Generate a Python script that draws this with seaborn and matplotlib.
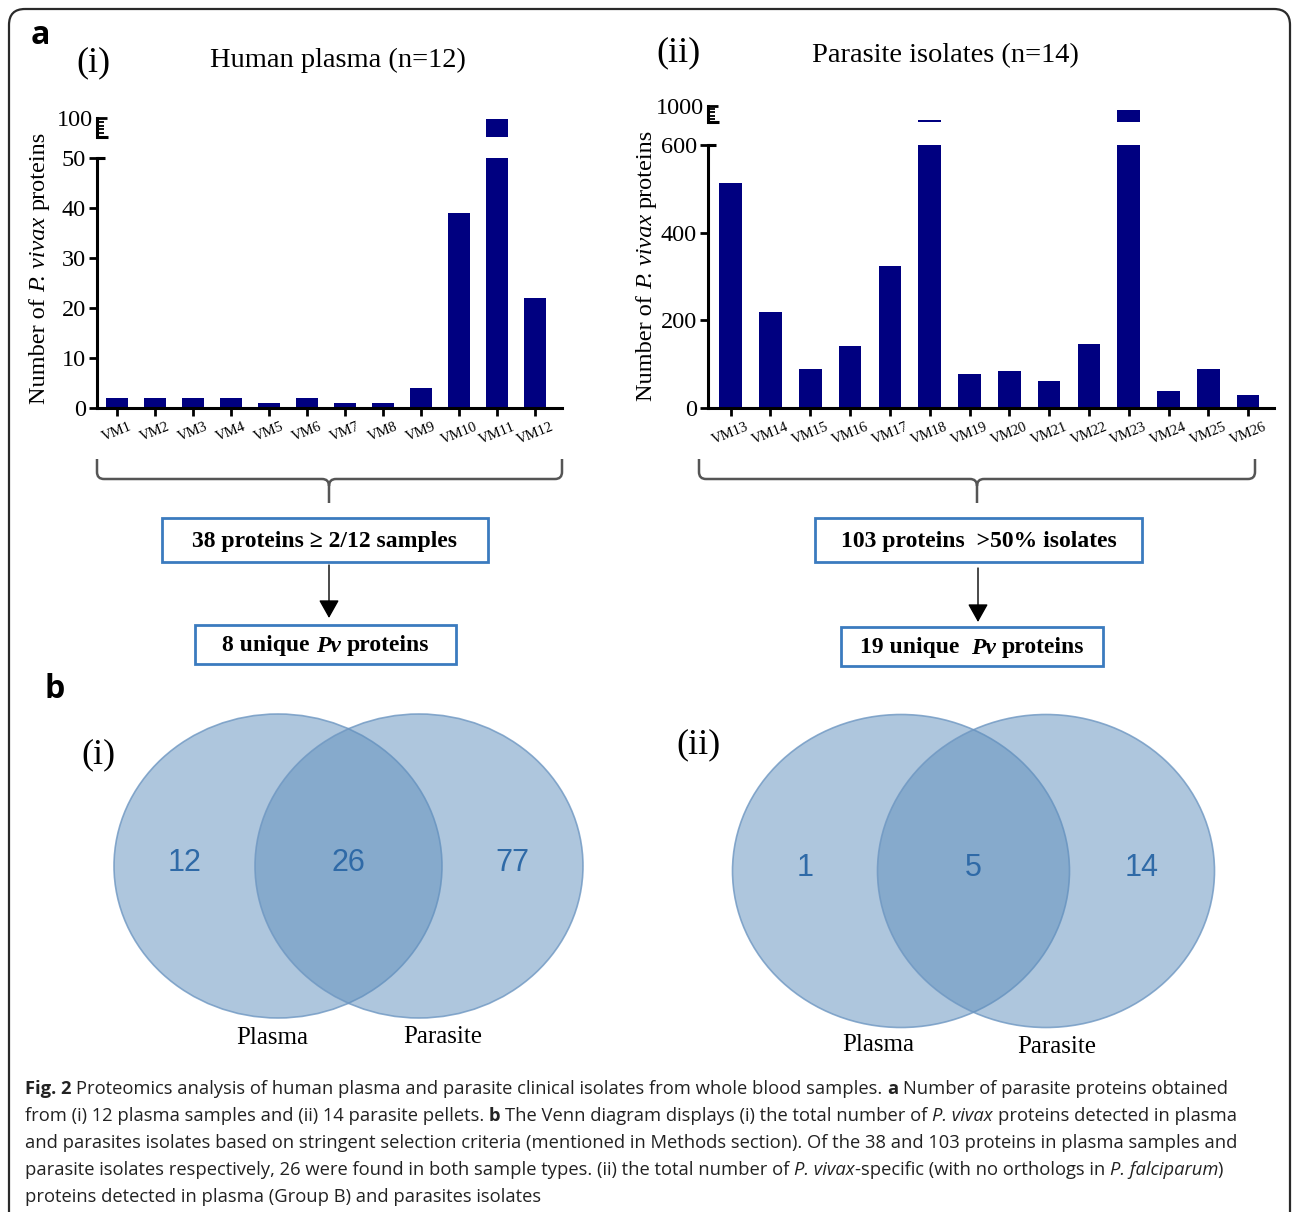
import matplotlib
matplotlib.use("Agg")
import numpy as np
import pandas as pd
import matplotlib.pyplot as plt
import seaborn as sns
from matplotlib.patches import Ellipse, Rectangle, FancyBboxPatch, PathPatch
from matplotlib.path import Path
from matplotlib import font_manager

# ---- data ----
plasma_samples = ["VM1", "VM2", "VM3", "VM4", "VM5", "VM6", "VM7", "VM8", "VM9", "VM10", "VM11", "VM12"]
plasma_counts = [2, 2, 2, 2, 1, 2, 1, 1, 4, 39, 98, 22]
plasma_ticks = [0, 10, 20, 30, 40, 50]

isolate_samples = ["VM13", "VM14", "VM15", "VM16", "VM17", "VM18", "VM19",
                   "VM20", "VM21", "VM22", "VM23", "VM24", "VM25", "VM26"]
isolate_counts = [514, 219, 89, 141, 325, 738, 78, 84, 61, 145, 925, 38, 89, 30]
isolate_ticks = [0, 200, 400, 600]

venn_labels = ["Plasma", "Parasite"]
venn_all = [12, 26, 77]        # plasma only, both, parasite only
venn_specific = [1, 5, 14]

flow_left = ["38 proteins \u2265 2/12 samples", "8 unique ", "Pv", " proteins"]
flow_right = ["103 proteins  >50% isolates", "19 unique  ", "Pv", " proteins"]

ylabel_runs = [("Number of ", "n"), ("P. vivax", "i"), (" proteins", "n")]

caption = [
    [("Fig. 2", "b"), (" Proteomics analysis of human plasma and parasite clinical isolates from whole blood samples. ", "n"),
     ("a", "b"), (" Number of parasite proteins obtained", "n")],
    [("from (i) 12 plasma samples and (ii) 14 parasite pellets. ", "n"), ("b", "b"),
     (" The Venn diagram displays (i) the total number of ", "n"), ("P. vivax", "i"), (" proteins detected in plasma", "n")],
    [("and parasites isolates based on stringent selection criteria (mentioned in Methods section). "
      "Of the 38 and 103 proteins in plasma samples and", "n")],
    [("parasite isolates respectively, 26 were found in both sample types. (ii) the total number of ", "n"),
     ("P. vivax", "i"), ("-specific (with no orthologs in ", "n"), ("P. falciparum", "i"), (")", "n")],
    [("proteins detected in plasma (Group B) and parasites isolates", "n")],
]

NAVY = "#000080"
BOX_BLUE = "#3b7bbf"
VENN_FILL = "#5f8fbd"
VENN_EDGE = "#6e97c2"
VENN_TEXT = "#2f6aa7"

sns.set_style("white")
plt.rcParams["font.family"] = ["Liberation Serif", "DejaVu Serif"]
plt.rcParams.update({
    "axes.edgecolor": "black", "xtick.color": "black", "ytick.color": "black",
    "text.color": "black", "axes.labelcolor": "black",
})

W, H = 1292, 1212
fig = plt.figure(figsize=(W / 100, H / 100), dpi=100)
ov = fig.add_axes([0, 0, 1, 1])
ov.set_xlim(0, W)
ov.set_ylim(H, 0)
ov.axis("off")
renderer = fig.canvas.get_renderer()

plain = {"n": {}, "b": {"weight": "bold"}, "i": {"style": "italic"},
         "bi": {"weight": "bold", "style": "italic"}}


def px_axes(x0, y0, x1, y1):
    return fig.add_axes([x0 / W, 1 - y1 / H, (x1 - x0) / W, (y1 - y0) / H])


def text_w(s, **kw):
    t = ov.text(0, 0, s, **kw)
    w = t.get_window_extent(renderer).width
    t.remove()
    return w


def draw_runs(x, y, runs, ha="left", vertical=False, **kw):
    # place differently styled pieces of one line next to each other
    parts = []
    for s, key in runs:
        st = dict(kw, **plain[key])
        core = s.strip()
        lead = len(s) - len(s.lstrip())
        trail = len(s) - len(s.rstrip())
        spw = text_w("x x", **st) - text_w("xx", **st)
        w = text_w(core, **st) if core else 0
        parts.append((core, st, lead * spw, w, trail * spw))
    total = sum(a + b + c for _, _, a, b, c in parts)
    start = x if not vertical else y
    if ha == "center":
        start = start + total / 2 if vertical else start - total / 2
    cur = start
    sign = -1 if vertical else 1
    for core, st, a, w, c in parts:
        cur += sign * a
        if core:
            if vertical:
                ov.text(x, cur, core, rotation=90, rotation_mode="anchor",
                        ha="left", va="baseline", **st)
            else:
                ov.text(cur, y, core, ha="left", va="baseline", **st)
        cur += sign * (w + c)


def bar_panel(labels, counts, ticks, px_l, px_r, y0, y_low_top, y_up_top, y_up_bot,
              up_lim, up_minor, xlim, bar_w):
    df = pd.DataFrame({"sample": labels, "count": counts})
    low = px_axes(px_l, y_low_top, px_r, y0)
    up = px_axes(px_l, y_up_top, px_r, y_up_bot)
    for ax in (low, up):
        sns.barplot(data=df, x="sample", y="count", color=NAVY, saturation=1,
                    width=bar_w, errorbar=None, ax=ax, linewidth=0)
        ax.set_xlim(*xlim)
        ax.set_xlabel("")
        ax.set_ylabel("")
        ax.set_facecolor("none")
        for side in ("top", "right"):
            ax.spines[side].set_visible(False)
        ax.spines["left"].set_linewidth(2.2)
        ax.spines["bottom"].set_linewidth(2.2)
    low.set_ylim(0, ticks[-1])
    low.set_yticks(ticks)
    low.set_yticklabels([str(t) for t in ticks], fontsize=17.5)
    low.set_xticks(range(len(labels)))
    low.set_xticklabels(labels, rotation=22, fontsize=10.5, ha="center")
    low.tick_params(axis="both", which="major", direction="out", length=6, width=2,
                    left=True, bottom=True, pad=3)
    low.tick_params(axis="y", pad=2)

    up.spines["bottom"].set_visible(False)
    up.set_ylim(*up_lim)
    up.set_yticks([up_lim[1]])
    up.set_yticklabels([str(up_lim[1])], fontsize=17.5)
    up.set_yticks(up_minor, minor=True)
    up.tick_params(axis="y", which="major", direction="in", length=7, width=2, left=True, pad=3)
    up.tick_params(axis="y", which="minor", direction="in", length=5, width=1.3, left=True)
    up.tick_params(axis="x", bottom=False, labelbottom=False)
    # foot of the upper segment and the break tick on the lower one
    ov.plot([px_l, px_l + 11], [y_up_bot, y_up_bot], color="black", lw=2.2, solid_capstyle="butt")
    ov.plot([px_l, px_l + 8], [y_low_top, y_low_top], color="black", lw=2.2, solid_capstyle="butt")


bar_panel(plasma_samples, plasma_counts, plasma_ticks, 97, 562, 408, 158, 118, 137,
          (60, 100), [68, 76, 84, 92], (-0.53, 11.7), 0.58)
bar_panel(isolate_samples, isolate_counts, isolate_ticks, 708, 1274, 408, 145, 106, 122,
          (700, 1000), [760, 820, 880, 940], (-0.57, 13.65), 0.57)

draw_runs(45, 268, ylabel_runs, ha="center", vertical=True, fontsize=17.5, family="Liberation Serif")
draw_runs(652, 265, ylabel_runs, ha="center", vertical=True, fontsize=17.5, family="Liberation Serif")

ov.text(93, 63, "(i)", fontsize=26, ha="center", va="center")
ov.text(338, 60, "Human plasma (n=12)", fontsize=20.5, ha="center", va="center")
ov.text(679, 53, "(ii)", fontsize=26, ha="center", va="center")
ov.text(945, 56, "Parasite isolates (n=14)", fontsize=20.5, ha="center", va="center")

ov.text(40, 35, "a", fontsize=23, family="Open Sans", weight="bold", ha="center", va="center")
ov.text(55, 690, "b", fontsize=23, family="Open Sans", weight="bold", ha="center", va="center")


def brace(x0, x1, xc, ytop, ymid, ybot, r=7):
    verts = [(x0, ytop), (x0, ymid - r), (x0, ymid), (x0 + r, ymid), (xc - r, ymid),
             (xc, ymid), (xc, ymid + r), (xc, ybot),
             (x1, ytop), (x1, ymid - r), (x1, ymid), (x1 - r, ymid), (xc + r, ymid),
             (xc, ymid), (xc, ymid + r)]
    codes = [Path.MOVETO, Path.LINETO, Path.CURVE3, Path.CURVE3, Path.LINETO,
             Path.CURVE3, Path.CURVE3, Path.LINETO,
             Path.MOVETO, Path.LINETO, Path.CURVE3, Path.CURVE3, Path.LINETO,
             Path.CURVE3, Path.CURVE3]
    ov.add_patch(PathPatch(Path(verts, codes), fill=False, ec="#555555", lw=1.8))


brace(97, 562, 329, 459, 479, 503)
brace(699, 1255, 977, 459, 479, 503)


def flow(texts, cx, box1, box2, arrow):
    for (x0, y0, x1, y1) in (box1, box2):
        ov.add_patch(Rectangle((x0, y0), x1 - x0, y1 - y0, fill=True, fc="white",
                               ec=BOX_BLUE, lw=2))
    ov.text((box1[0] + box1[2]) / 2, (box1[1] + box1[3]) / 2 + 1, texts[0], fontsize=17,
            weight="bold", ha="center", va="center")
    draw_runs((box2[0] + box2[2]) / 2, (box2[1] + box2[3]) / 2 + 7,
              [(texts[1], "b"), (texts[2], "bi"), (texts[3], "b")],
              ha="center", fontsize=17, family="Liberation Serif")
    ov.annotate("", xy=(cx, arrow[1]), xytext=(cx, arrow[0]),
                arrowprops=dict(arrowstyle="-|>,head_length=0.8,head_width=0.45", color="black",
                                lw=1.0, shrinkA=0, shrinkB=0, mutation_scale=14))


flow(flow_left, 329, (162, 518, 488, 562), (195, 625, 456, 664), (565, 618))
flow(flow_right, 978, (815, 518, 1142, 562), (841, 627, 1103, 666), (568, 622))


def venn(counts, left, right, size, num_y, label_pos, tag, tag_pos):
    for c in (left, right):
        ov.add_patch(Ellipse(c, size[0], size[1], fc=VENN_FILL, alpha=0.5, ec="none"))
        ov.add_patch(Ellipse(c, size[0], size[1], fill=False, ec=VENN_EDGE, lw=1.2, alpha=0.8))
    l_edge, r_edge = left[0] - size[0] / 2, right[0] + size[0] / 2
    i_left, i_right = right[0] - size[0] / 2, left[0] + size[0] / 2
    xs = [(l_edge + i_left) / 2, (i_left + i_right) / 2, (i_right + r_edge) / 2]
    for x, n in zip(xs, counts):
        ov.text(x, num_y, str(n), fontsize=22, family="Liberation Sans", color=VENN_TEXT,
                ha="center", va="center")
    for (x, y), lab in zip(label_pos, venn_labels):
        ov.text(x, y, lab, fontsize=18, ha="center", va="center")
    ov.text(tag_pos[0], tag_pos[1], tag, fontsize=26, ha="center", va="center")


venn(venn_all, (278, 866), (419, 866), (328, 304), 863, [(272, 1038), (443, 1037)], "(i)", (98, 755))
venn(venn_specific, (901, 871), (1046, 871), (337, 313), 868, [(878, 1045), (1057, 1047)], "(ii)", (699, 745))

# caption, fitted to the width of the third line
names = {f.name for f in font_manager.fontManager.ttflist}
cap_font = "Liberation Sans Narrow" if "Liberation Sans Narrow" in names else "Open Sans"
w10 = text_w(caption[2][0][0], fontsize=10, family=cap_font)
cap_size = 10 * 1218 / w10
for k, line in enumerate(caption):
    draw_runs(25, 1094 + 27 * k, line, fontsize=cap_size, family=cap_font, color="#222222")

ov.add_patch(FancyBboxPatch((9, 9), 1281, 1240, boxstyle="round,pad=0,rounding_size=16",
                            fill=False, ec="#2a2a2a", lw=1.6))

fig.savefig("out.png", dpi=100)
